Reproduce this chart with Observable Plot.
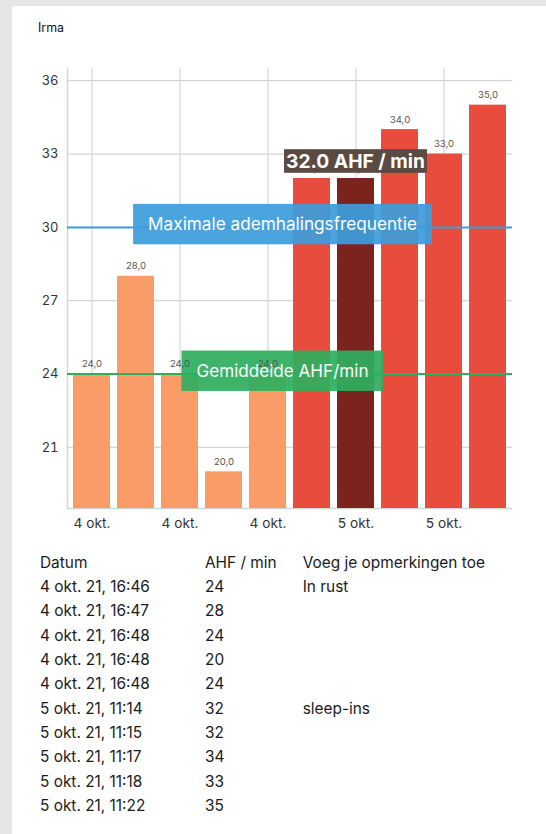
<!DOCTYPE html>
<html><head><meta charset="utf-8">
<script src="https://cdn.jsdelivr.net/npm/d3@7"></script>
<script src="https://cdn.jsdelivr.net/npm/@observablehq/plot@0.6"></script>
<style>
html,body{margin:0;padding:0;}
body{width:546px;height:834px;background:#e6e6e6;position:relative;overflow:hidden;font-family:Inter,"Noto Sans",sans-serif;}
#card{position:absolute;left:12px;top:6px;right:0;bottom:0;background:#fff;}
#title{position:absolute;left:38px;top:20px;font-size:12.4px;color:#111;}
#chart{position:absolute;left:0;top:40px;}
#table{position:absolute;left:0;top:550.5px;width:546px;}
.row{position:relative;height:24.35px;line-height:24.35px;font-size:15.4px;color:#1a1a1a;}
.row span{position:absolute;white-space:nowrap;top:0;}
</style></head><body>
<div id="card"></div>
<div id="title"></div>
<div id="chart"></div>
<div id="table"></div>
<script>
const title = "Irma";
const dates = ["4 okt. 21, 16:46", "4 okt. 21, 16:47", "4 okt. 21, 16:48", "4 okt. 21, 16:48", "4 okt. 21, 16:48",
               "5 okt. 21, 11:14", "5 okt. 21, 11:15", "5 okt. 21, 11:17", "5 okt. 21, 11:18", "5 okt. 21, 11:22"];
const values = [24, 28, 24, 20, 24, 32, 32, 34, 33, 35];
const remarks = ["In rust", "", "", "", "", "sleep-ins", "", "", "", ""];
const tableHeaders = ["Datum", "AHF / min", "Voeg je opmerkingen toe"];
const yTicks = [21, 24, 27, 30, 33, 36];
const xTickIdx = [0, 2, 4, 6, 8];
const maxRate = 30;
const avgRate = 24;
const selectedIndex = 6;
const maxLabel = "Maximale ademhalingsfrequentie";
const avgLabel = "Gemiddelde AHF/min";
const unit = "AHF / min";

const dayOf = d => d.split(" ").slice(0, 2).join(" ");
const firstDay = dayOf(dates[0]);
const ORANGE = "#f99c67", RED = "#e74c3c", DARK = "#7a241d";
const BLUE = "#3d9ddb", GREEN = "#2fae5f", GRID = "#d5d5d5";

document.getElementById("title").textContent = title;

const data = values.map((v, i) => ({i, date: dates[i], day: dayOf(dates[i]), value: v}));
const yDomain = [18.5, 36.5];
const fill = d => d.i === selectedIndex ? DARK : (d.day === firstDay ? ORANGE : RED);

const chart = Plot.plot({
  width: 546, height: 500,
  marginLeft: 67, marginRight: 34, marginTop: 28, marginBottom: 32,
  style: {fontFamily: "Inter, sans-serif", background: "transparent", overflow: "visible"},
  x: {type: "band", domain: data.map(d => d.i), paddingInner: 0.15, paddingOuter: 0.05},
  y: {domain: yDomain},
  color: {type: "identity"},
  marks: [
    Plot.gridY(yTicks, {stroke: GRID, strokeOpacity: 1, strokeWidth: 1.2}),
    Plot.gridX(xTickIdx, {stroke: GRID, strokeOpacity: 1, strokeWidth: 1.2}),
    Plot.ruleY([yDomain[0]], {stroke: GRID, strokeWidth: 1.5}),
    Plot.frame({anchor: "left", stroke: GRID, strokeWidth: 1.5}),
    Plot.barY(data, {x: "i", y1: yDomain[0], y2: "value", fill}),
    Plot.ruleY([maxRate], {stroke: BLUE, strokeWidth: 2}),
    Plot.ruleY([avgRate], {stroke: GREEN, strokeWidth: 2}),
    Plot.text(data, {x: "i", y: "value", text: d => d.value.toFixed(1).replace(".", ","), dy: -10, fontSize: 9.6, fill: "#555"}),
    Plot.axisY(yTicks, {tickSize: 0, tickPadding: 9, fontSize: 13, fill: "#333", label: null}),
    Plot.axisX(xTickIdx, {tickSize: 0, tickPadding: 10, tickFormat: i => dayOf(dates[i]), fontSize: 13.7, fill: "#333", label: null})
  ]
});
document.getElementById("chart").appendChild(chart);

// annotation boxes placed with the plot's own scales
const svg = d3.select(chart);
const ys = chart.scale("y");
const xs = chart.scale("x");
const textGroup = svg.selectAll('g[aria-label="text"]').nodes()[0];
const ann = svg.insert("g", () => textGroup);
const cx = (67 + 512) / 2 - 7;
function labelBox(g, yVal, label, color, fs) {
  const y = ys.apply(yVal) - 2.8;
  const t = g.append("text").attr("x", cx).attr("y", y).attr("text-anchor", "middle").attr("dy", "0.35em")
    .attr("fill", "#fff").attr("font-size", fs).text(label);
  const w = t.node().getComputedTextLength();
  g.insert("rect", () => t.node()).attr("x", cx - w / 2 - 15).attr("width", w + 30)
    .attr("y", y - 20.2).attr("height", 40.4).attr("fill", color).attr("fill-opacity", 0.93);
}
labelBox(ann, maxRate, maxLabel, BLUE, 17.2);
labelBox(ann, avgRate, avgLabel, GREEN, 17.1);

// tooltip on the selected bar
const tip = svg.append("g");
const tx = xs.apply(selectedIndex) + xs.bandwidth / 2;
const ty = ys.apply(values[selectedIndex]) - 17;
const tt = tip.append("text").attr("x", tx).attr("y", ty).attr("text-anchor", "middle").attr("dy", "0.35em")
  .attr("fill", "#fff").attr("font-size", 19.2).attr("font-weight", "bold")
  .text(values[selectedIndex].toFixed(1) + " " + unit);
const tw = tt.node().getComputedTextLength();
tip.insert("rect", () => tt.node()).attr("x", tx - tw / 2 - 2).attr("width", tw + 4)
  .attr("y", ty - 11.8).attr("height", 23.6).attr("fill", "#5b4a41");

// table below the chart
const cols = [40, 205, 302.7];
const table = d3.select("#table");
const rows = [tableHeaders].concat(dates.map((d, i) => [d, String(values[i]), remarks[i]]));
rows.forEach(r => {
  const row = table.append("div").attr("class", "row");
  r.forEach((c, j) => row.append("span").style("left", cols[j] + "px").text(c));
});
</script>
</body></html>
